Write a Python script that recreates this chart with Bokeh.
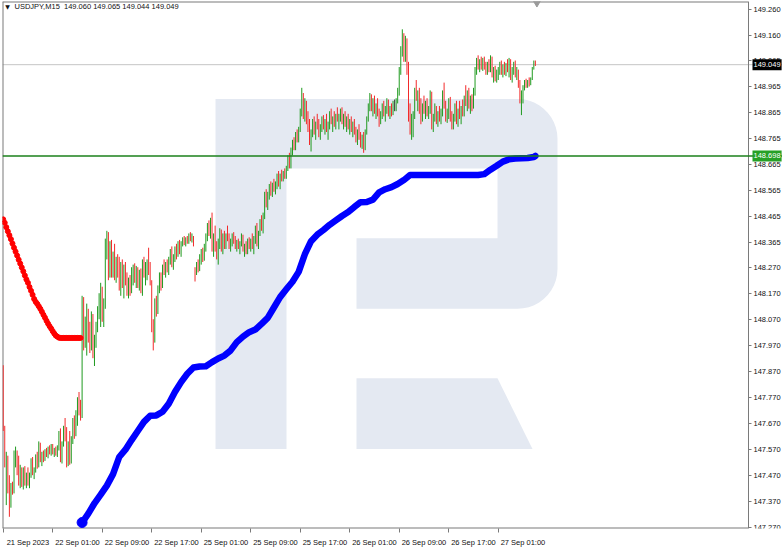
import numpy as np
from bokeh.plotting import figure
from bokeh.models import Range1d, FixedTicker, NumeralTickFormatter, Span, Label
from bokeh.embed import file_html
from bokeh.resources import INLINE

symbol = "USDJPY,M15"
first_open = 147.905

# M15 bars, 21 Sep 2023 17:00 -> 27 Sep 2023 07:00 (16 bars per row = 4 hours)
high = [
147.893,147.660,147.560,147.545,147.470,147.440,147.445,147.565,147.580,147.565,147.545,147.510,147.500,147.500,147.505,147.480,
147.500,147.480,147.535,147.540,147.500,147.550,147.560,147.600,147.595,147.560,147.565,147.570,147.575,147.580,147.585,147.590,
147.590,147.575,147.580,147.585,147.640,147.650,147.600,147.660,147.690,147.655,147.600,147.640,147.620,147.690,147.700,147.720,
147.770,147.790,147.760,148.160,148.155,148.080,148.130,148.110,148.060,148.100,148.090,148.010,148.060,148.120,148.170,148.210,
148.195,148.150,148.380,148.410,148.405,148.370,148.375,148.330,148.360,148.310,148.320,148.310,148.290,148.300,148.280,148.290,
148.250,148.230,148.240,148.270,148.280,148.285,148.275,148.270,148.260,148.265,148.300,148.310,148.290,148.300,148.345,148.290,
148.220,148.070,148.150,148.160,148.200,148.250,148.250,148.280,148.300,148.290,148.300,148.310,148.340,148.350,148.320,148.350,
148.360,148.370,148.375,148.370,148.385,148.390,148.385,148.390,148.400,148.405,148.400,148.390,148.270,148.290,148.300,148.320,
148.340,148.345,148.360,148.400,148.440,148.450,148.460,148.480,148.400,148.430,148.370,148.380,148.420,148.415,148.400,148.410,
148.400,148.430,148.400,148.380,148.400,148.405,148.390,148.375,148.380,148.370,148.400,148.395,148.360,148.370,148.380,148.385,
148.380,148.400,148.390,148.430,148.440,148.410,148.455,148.470,148.480,148.560,148.570,148.560,148.590,148.600,148.595,148.610,
148.600,148.630,148.640,148.630,148.645,148.640,148.650,148.660,148.700,148.710,148.730,148.760,148.770,148.790,148.800,148.810,
148.880,148.960,148.940,148.920,148.910,148.870,148.840,148.800,148.840,148.850,148.830,148.860,148.840,148.820,148.850,148.855,
148.840,148.860,148.830,148.870,148.880,148.850,148.870,148.860,148.885,148.860,148.880,148.885,148.860,148.870,148.850,148.860,
148.840,148.850,148.830,148.840,148.810,148.800,148.820,148.790,148.780,148.790,148.800,148.850,148.900,148.940,148.935,148.920,
148.930,148.900,148.920,148.880,148.870,148.900,148.910,148.890,148.920,148.915,148.890,148.900,148.910,148.915,148.920,148.960,
149.040,149.120,149.185,149.170,149.160,149.150,149.060,148.900,148.860,148.870,148.960,148.990,148.950,148.960,148.920,148.900,
148.930,148.910,148.920,148.890,148.950,148.945,148.860,148.900,148.890,148.870,148.890,148.880,148.950,148.980,148.910,148.880,
148.920,148.925,148.870,148.860,148.900,148.910,148.880,148.910,148.890,148.915,148.930,148.970,148.950,148.960,148.930,148.935,
148.960,149.040,149.075,149.085,149.070,149.080,149.075,149.080,149.060,149.060,149.070,149.085,149.080,149.040,149.045,149.030,
149.040,149.060,149.065,149.050,149.060,149.055,149.070,149.075,149.070,149.040,149.060,149.065,149.040,149.030,148.990,148.950,
148.970,148.990,148.995,148.990,149.000,149.000,149.040,149.065,149.065]

low = [
147.640,147.500,147.355,147.400,147.310,147.345,147.395,147.400,147.500,147.470,147.430,147.420,147.425,147.415,147.430,147.420,
147.430,147.420,147.460,147.470,147.455,147.480,147.495,147.500,147.520,147.505,147.520,147.525,147.540,147.535,147.550,147.545,
147.550,147.540,147.545,147.540,147.565,147.520,147.515,147.580,147.600,147.500,147.505,147.510,147.515,147.590,147.610,147.620,
147.660,147.700,147.680,147.690,147.950,147.960,147.930,147.980,147.940,147.950,147.920,147.890,147.960,148.020,148.070,148.040,
148.060,148.040,148.110,148.300,148.220,148.230,148.230,148.230,148.220,148.210,148.230,148.180,148.160,148.190,148.150,148.200,
148.160,148.150,148.160,148.170,148.200,148.210,148.190,148.190,148.180,148.170,148.160,148.230,148.200,148.220,148.240,148.200,
148.020,147.950,147.980,148.080,148.090,148.170,148.180,148.190,148.240,148.230,148.250,148.240,148.280,148.270,148.260,148.290,
148.300,148.310,148.320,148.310,148.350,148.355,148.350,148.360,148.360,148.370,148.365,148.350,148.215,148.240,148.250,148.255,
148.280,148.290,148.295,148.330,148.370,148.390,148.380,148.330,148.310,148.330,148.300,148.280,148.340,148.330,148.320,148.340,
148.340,148.370,148.340,148.330,148.350,148.360,148.340,148.330,148.340,148.320,148.350,148.330,148.310,148.320,148.320,148.340,
148.330,148.340,148.320,148.360,148.350,148.340,148.390,148.410,148.400,148.455,148.500,148.490,148.530,148.545,148.540,148.560,
148.550,148.570,148.580,148.570,148.600,148.600,148.610,148.610,148.640,148.650,148.650,148.700,148.720,148.720,148.750,148.750,
148.790,148.850,148.840,148.830,148.820,148.790,148.740,148.715,148.770,148.780,148.760,148.800,148.770,148.760,148.790,148.800,
148.780,148.790,148.760,148.800,148.820,148.790,148.810,148.800,148.830,148.800,148.830,148.820,148.800,148.810,148.790,148.800,
148.780,148.790,148.770,148.780,148.750,148.740,148.760,148.730,148.725,148.710,148.720,148.780,148.830,148.870,148.870,148.850,
148.860,148.840,148.850,148.810,148.820,148.840,148.850,148.830,148.860,148.850,148.840,148.850,148.855,148.870,148.870,148.900,
148.930,149.010,149.080,149.060,149.060,149.010,148.830,148.780,148.760,148.770,148.840,148.910,148.870,148.860,148.820,148.830,
148.860,148.840,148.850,148.840,148.860,148.800,148.790,148.830,148.820,148.810,148.830,148.820,148.850,148.880,148.830,148.825,
148.840,148.830,148.800,148.800,148.830,148.820,148.810,148.840,148.820,148.850,148.850,148.890,148.870,148.880,148.860,148.870,
148.880,148.930,149.010,149.030,149.020,149.030,149.025,149.030,149.010,149.010,149.020,149.020,149.000,148.980,148.985,148.980,
148.990,149.010,149.010,149.000,149.010,149.005,149.020,149.000,148.990,148.980,149.010,149.000,148.990,148.960,148.900,148.855,
148.900,148.950,148.960,148.960,148.965,148.970,148.990,149.030,149.044]

close = [
147.655,147.515,147.540,147.420,147.360,147.430,147.405,147.550,147.560,147.480,147.440,147.495,147.440,147.490,147.445,147.470,
147.445,147.475,147.525,147.480,147.495,147.540,147.505,147.520,147.515,147.550,147.530,147.560,147.545,147.570,147.560,147.580,
147.555,147.570,147.550,147.580,147.630,147.540,147.590,147.650,147.610,147.520,147.590,147.525,147.600,147.680,147.625,147.710,
147.760,147.720,147.700,148.120,147.980,148.050,148.100,148.000,147.960,148.080,147.930,147.990,148.040,148.100,148.150,148.190,
148.080,148.130,148.350,148.380,148.240,148.340,148.250,148.300,148.240,148.290,148.250,148.200,148.270,148.210,148.260,148.220,
148.180,148.210,148.170,148.250,148.270,148.230,148.260,148.200,148.250,148.180,148.290,148.250,148.280,148.290,148.260,148.210,
148.040,147.990,148.130,148.100,148.190,148.240,148.200,148.270,148.250,148.280,148.260,148.300,148.330,148.280,148.310,148.340,
148.320,148.360,148.330,148.360,148.380,148.360,148.375,148.370,148.395,148.380,148.390,148.355,148.260,148.280,148.260,148.310,
148.330,148.300,148.350,148.390,148.430,148.400,148.450,148.350,148.390,148.340,148.320,148.360,148.410,148.340,148.390,148.350,
148.390,148.380,148.350,148.370,148.390,148.370,148.350,148.365,148.345,148.360,148.390,148.340,148.350,148.330,148.370,148.350,
148.370,148.350,148.380,148.420,148.360,148.400,148.440,148.420,148.470,148.550,148.510,148.550,148.580,148.555,148.585,148.570,
148.590,148.620,148.590,148.620,148.610,148.635,148.620,148.655,148.690,148.660,148.720,148.750,148.730,148.780,148.770,148.800,
148.870,148.930,148.860,148.900,148.830,148.800,148.760,148.790,148.830,148.790,148.820,148.810,148.780,148.810,148.840,148.810,
148.830,148.800,148.820,148.860,148.830,148.840,148.820,148.850,148.840,148.850,148.870,148.830,148.850,148.820,148.840,148.810,
148.830,148.800,148.820,148.790,148.760,148.790,148.770,148.740,148.770,148.730,148.790,148.840,148.890,148.920,148.880,148.900,
148.870,148.890,148.860,148.830,148.860,148.890,148.860,148.880,148.910,148.860,148.880,148.860,148.900,148.900,148.910,148.950,
149.030,149.110,149.150,149.080,149.140,149.030,148.850,148.800,148.840,148.860,148.940,148.920,148.940,148.870,148.840,148.890,
148.870,148.900,148.860,148.880,148.940,148.820,148.850,148.880,148.830,148.860,148.840,148.870,148.940,148.900,148.840,148.870,
148.910,148.840,148.810,148.850,148.890,148.830,148.870,148.850,148.880,148.860,148.920,148.900,148.940,148.890,148.920,148.880,
148.950,149.030,149.060,149.040,149.060,149.040,149.065,149.040,149.020,149.050,149.030,149.075,149.010,149.030,148.995,149.020,
149.030,149.050,149.020,149.040,149.020,149.045,149.030,149.060,149.000,149.030,149.050,149.010,149.030,148.970,148.910,148.930,
148.960,148.980,148.970,148.985,148.975,148.995,149.035,149.060,149.049]

# red indicator dots (bars 0..50)
red_val = [148.454,148.441,148.424,148.408,148.393,148.378,148.361,148.345,148.330,148.315,
           148.299,148.284,148.269,148.254,148.238,148.223,148.210,148.194,148.179,148.164,
           148.148,148.137,148.129,148.120,148.110,148.099,148.087,148.076,148.064,148.053,
           148.043,148.034,148.024,148.015,148.007,148.003,147.999,147.998,147.998,147.998,
           147.998,147.998,147.998,147.998,147.998,147.998,147.998,147.998,147.998,147.998,147.998]

# blue indicator (read hourly)
blue_idx = [51,55,59,63,67,71,75,79,83,87,91,95,99,103,107,111,115,119,123,127,131,135,139,143,
            147,151,155,159,163,167,171,175,179,183,187,191,195,199,203,207,211,215,219,223,227,
            231,235,239,243,247,251,255,259,263,267,271,275,279,283,287,291,295,299,303,307,311,
            315,319,323,327,331,335,339,343,344]
blue_val = [147.288,147.322,147.362,147.395,147.430,147.474,147.540,147.568,147.605,147.640,147.675,
            147.699,147.700,147.714,147.745,147.790,147.828,147.860,147.884,147.888,147.889,147.905,
            147.919,147.930,147.950,147.982,148.003,148.020,148.030,148.052,148.075,148.115,148.155,
            148.185,148.214,148.252,148.320,148.370,148.395,148.413,148.433,148.450,148.467,148.482,
            148.502,148.520,148.521,148.530,148.558,148.570,148.578,148.590,148.605,148.625,148.625,
            148.625,148.625,148.625,148.625,148.625,148.625,148.625,148.625,148.625,148.625,148.628,
            148.645,148.660,148.676,148.685,148.688,148.689,148.690,148.694,148.698]

time_ticks = [0, 32, 64, 96, 128, 160, 192, 224, 256, 288, 320]
time_labels = ["21 Sep 2023", "22 Sep 01:00", "22 Sep 09:00", "22 Sep 17:00", "25 Sep 01:00",
               "25 Sep 09:00", "25 Sep 17:00", "26 Sep 01:00", "26 Sep 09:00", "26 Sep 17:00",
               "27 Sep 01:00"]
price_ticks = [147.270, 147.370, 147.470, 147.570, 147.670, 147.770, 147.870, 147.970, 148.070,
               148.170, 148.270, 148.365, 148.465, 148.565, 148.665, 148.765, 148.865, 148.965,
               149.065, 149.160, 149.260]

n = len(close)
assert len(high) == n and len(low) == n, (len(high), len(low), n)
assert len(blue_idx) == len(blue_val)
opens = [first_open] + close[:-1]
idx = list(range(n))
colors = ["#1f9a1f" if c > o else ("#f22a2a" if c < o else "#404040") for o, c in zip(opens, close)]
level = blue_val[-1]
bid = close[-1]

# frame spans page px 2..782 horizontally, 1..531 vertically
BAR_PX = 1.547
X0 = (2 - 2.7) / BAR_PX
X1 = (782 - 2.7) / BAR_PX
AX = (748 - 2.7) / BAR_PX          # price scale sits here
Y0, Y1 = 147.265, 149.292
FONT = "Liberation Sans"
FS = "7.5px"
GRAY = "#7a7a7a"

p = figure(width=782, height=549, output_backend="svg", toolbar_location=None,
           x_range=Range1d(X0, X1), y_range=Range1d(Y0, Y1), y_axis_location="right",
           min_border_left=2, min_border_top=1, min_border_right=0, min_border_bottom=18,
           background_fill_color="white", border_fill_color="white")
p.grid.visible = False
p.outline_line_color = None

def fx(px):
    return X0 + (px - 2) / 780.0 * (X1 - X0)

def fy(py):
    return Y1 - (py - 1) / 530.0 * (Y1 - Y0)

# watermark logo
r, xr = 40, 557
outer = [(215, 99), (xr - r, 99)]
for a in np.linspace(90, 0, 12):
    t = np.radians(a)
    outer.append((xr - r + r * np.cos(t), 99 + r - r * np.sin(t)))
for a in np.linspace(0, -90, 12):
    t = np.radians(a)
    outer.append((xr - r + r * np.cos(t), 310 - r - r * np.sin(t)))
outer += [(356, 310), (356, 239), (497, 239), (497, 169), (286, 169), (286, 451), (215, 451)]
leg = [(356, 380), (497, 380), (532, 451), (356, 451)]
p.patches(xs=[[fx(a) for a, b in outer], [fx(a) for a, b in leg]],
          ys=[[fy(b) for a, b in outer], [fy(b) for a, b in leg]],
          fill_color="#e4e9f2", line_color=None)

# chart frame (left, top, bottom)
p.segment(x0=[X0, X0, X0], y0=[Y0, Y1, Y0], x1=[X0, AX, AX], y1=[Y1, Y1, Y0],
          line_color=GRAY, line_width=2)

p.add_layout(Span(location=bid, dimension="width", line_color="#c6c6c6", line_width=1, level="underlay"))

p.segment(x0=idx, y0=low, x1=idx, y1=high, line_color=colors, line_width=1)

p.scatter(list(range(len(red_val))), red_val, size=5, color="#ff0000")
p.line(blue_idx, blue_val, line_width=6.5, color="#0000ff", line_join="round", line_cap="round")
p.scatter([blue_idx[0]], [blue_val[0]], size=10, color="#0000ff")

p.add_layout(Span(location=level, dimension="width", line_color="#1b801b", line_width=1.6))

p.scatter([n], [fy(2.5)], marker="inverted_triangle", size=7, color="#9a9a9a")

# time axis
xa = p.xaxis[0]
off = 16
xa.ticker = FixedTicker(ticks=[t + off for t in time_ticks], minor_ticks=time_ticks)
xa.major_label_overrides = {t + off: lab for t, lab in zip(time_ticks, time_labels)}
xa.major_tick_out = 0
xa.major_tick_in = 0
xa.minor_tick_out = 4
xa.minor_tick_in = 0
xa.minor_tick_line_color = GRAY
xa.axis_line_color = None
xa.major_label_text_font = FONT
xa.major_label_text_font_size = FS
xa.major_label_text_color = "#111111"
xa.major_label_standoff = 5

# price axis
ya = p.yaxis[0]
ya.fixed_location = AX
ya.ticker = FixedTicker(ticks=price_ticks)
ya.formatter = NumeralTickFormatter(format="0.000")
ya.major_tick_out = 3
ya.major_tick_in = 0
ya.minor_tick_out = 0
ya.minor_tick_in = 0
ya.major_tick_line_color = GRAY
ya.axis_line_color = GRAY
ya.major_label_text_font = FONT
ya.major_label_text_font_size = FS
ya.major_label_text_color = "#111111"
ya.major_label_standoff = 2

# price tags on the scale
p.add_layout(Label(x=AX, y=bid, x_offset=4, text=f"{bid:.3f}", text_baseline="middle",
                   text_align="left", text_color="white", text_font=FONT, text_font_size=FS,
                   background_fill_color="black", padding=(1, 3)))
p.add_layout(Label(x=AX, y=level, x_offset=4, text=f"{level:.3f}", text_baseline="middle",
                   text_align="left", text_color="white", text_font=FONT, text_font_size=FS,
                   background_fill_color="#26a026", padding=(1, 3)))

# header
hdr = f"{symbol}\u00a0\u00a0{opens[-1]:.3f} {high[-1]:.3f} {low[-1]:.3f} {close[-1]:.3f}"
p.add_layout(Label(x=fx(14), y=fy(6.5), text=hdr, text_baseline="middle", text_align="left",
                   text_color="#111111", text_font=FONT, text_font_size=FS))
p.add_layout(Label(x=fx(7), y=fy(6.5), text="\u25bc", text_baseline="middle", text_align="center",
                   text_color="#111111", text_font="DejaVu Sans", text_font_size="6px"))

open("out.html", "w").write(file_html(p, INLINE))
